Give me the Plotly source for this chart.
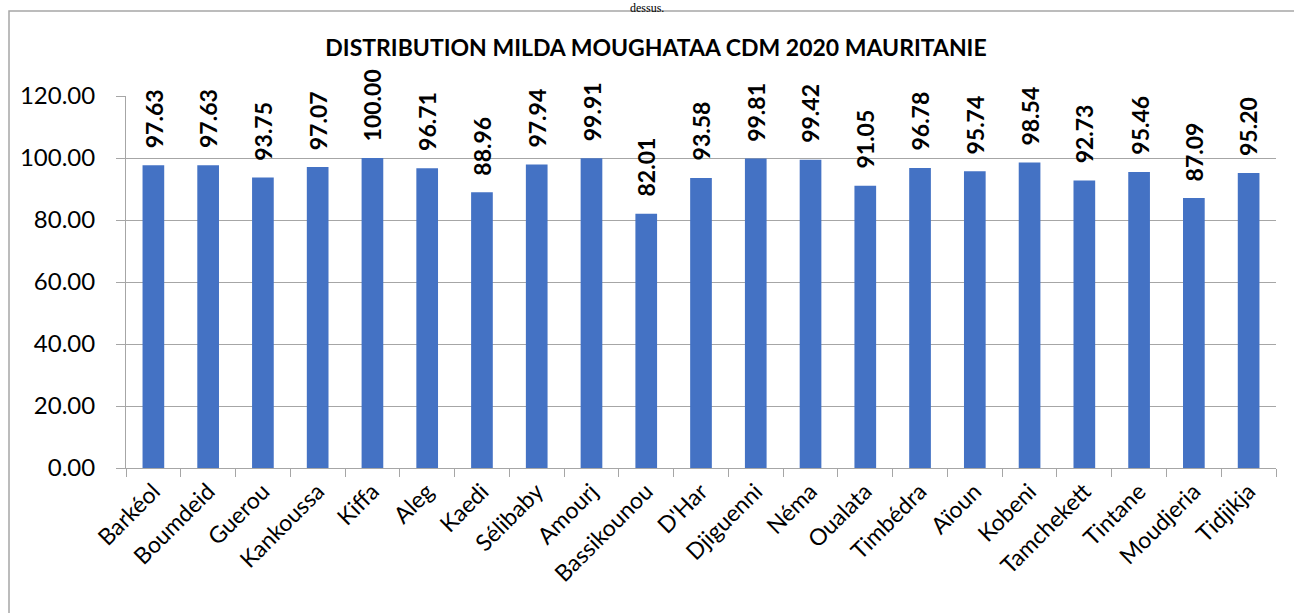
import plotly.graph_objects as go

categories = ["Barkéol", "Boumdeid", "Guerou", "Kankoussa", "Kiffa", "Aleg", "Kaedi",
              "Sélibaby", "Amourj", "Bassikounou", "D'Har", "Djiguenni", "Néma", "Oualata",
              "Timbédra", "Aïoun", "Kobeni", "Tamchekett", "Tintane", "Moudjeria", "Tidjikja"]
values = [97.63, 97.63, 93.75, 97.07, 100.00, 96.71, 88.96, 97.94, 99.91, 82.01, 93.58,
          99.81, 99.42, 91.05, 96.78, 95.74, 98.54, 92.73, 95.46, 87.09, 95.20]
y_ticks = [0, 20, 40, 60, 80, 100, 120]
title_text = "DISTRIBUTION MILDA MOUGHATAA CDM 2020 MAURITANIE"

FONT = "Lato"
W, H = 1294, 613
L, R, T, B = 126, 18, 96, 145
ph = H - T - B
pw = W - L - R

def px_to_yp(py):
    return 1 + (T - py) / ph

def px_to_xp(px):
    return (px - L) / pw

fig = go.Figure(go.Bar(
    x=categories, y=values,
    marker=dict(color="#4472C4", line=dict(width=0)),
    hoverinfo="x+y",
))

for c, v in zip(categories, values):
    fig.add_annotation(x=c, y=v, text=f"<b>{v:.2f}</b>", textangle=-90,
                       showarrow=False, xanchor="center", yanchor="bottom", yshift=15,
                       font=dict(family=FONT, size=23, color="black"))

fig.update_layout(
    width=W, height=H,
    margin=dict(l=L, r=R, t=T, b=B),
    paper_bgcolor="white", plot_bgcolor="white",
    bargap=0.604,
    showlegend=False,
    title=dict(text=f"<b>{title_text}</b>", x=656 / W, xanchor="center",
               y=1 - 47.5 / H, yanchor="middle",
               font=dict(family=FONT, size=23, color="black")),
    xaxis=dict(type="category", tickangle=-45, tickson="boundaries", ticks="outside",
               ticklen=8, tickcolor="#a6a6a6", showline=True, linecolor="#a6a6a6",
               tickfont=dict(family=FONT, size=23, color="black"), showgrid=False),
    yaxis=dict(range=[0, 120], tickvals=y_ticks, ticktext=[f"{v:.2f}" for v in y_ticks],
               showgrid=True, gridcolor="#a6a6a6", gridwidth=1, ticks="outside", ticklen=9,
               tickcolor="#a6a6a6", showline=True, linecolor="#a6a6a6",
               ticklabelstandoff=16,
               tickfont=dict(family=FONT, size=24, color="black"), zeroline=False),
)

fig.add_shape(type="rect", xref="paper", yref="paper",
              x0=px_to_xp(9), x1=px_to_xp(1310), y0=px_to_yp(640), y1=px_to_yp(11),
              line=dict(color="#a6a6a6", width=1.5), fillcolor="rgba(0,0,0,0)", layer="below")

fig.add_annotation(text="dessus.", xref="paper", yref="paper", x=px_to_xp(647), y=px_to_yp(0),
                   showarrow=False, xanchor="center", yanchor="top", borderpad=0,
                   font=dict(family="Liberation Serif", size=12, color="black"))

fig.write_html("out.html", config={"displayModeBar": False},
               post_script="document.body.style.margin='0';document.body.style.overflow='hidden';")
